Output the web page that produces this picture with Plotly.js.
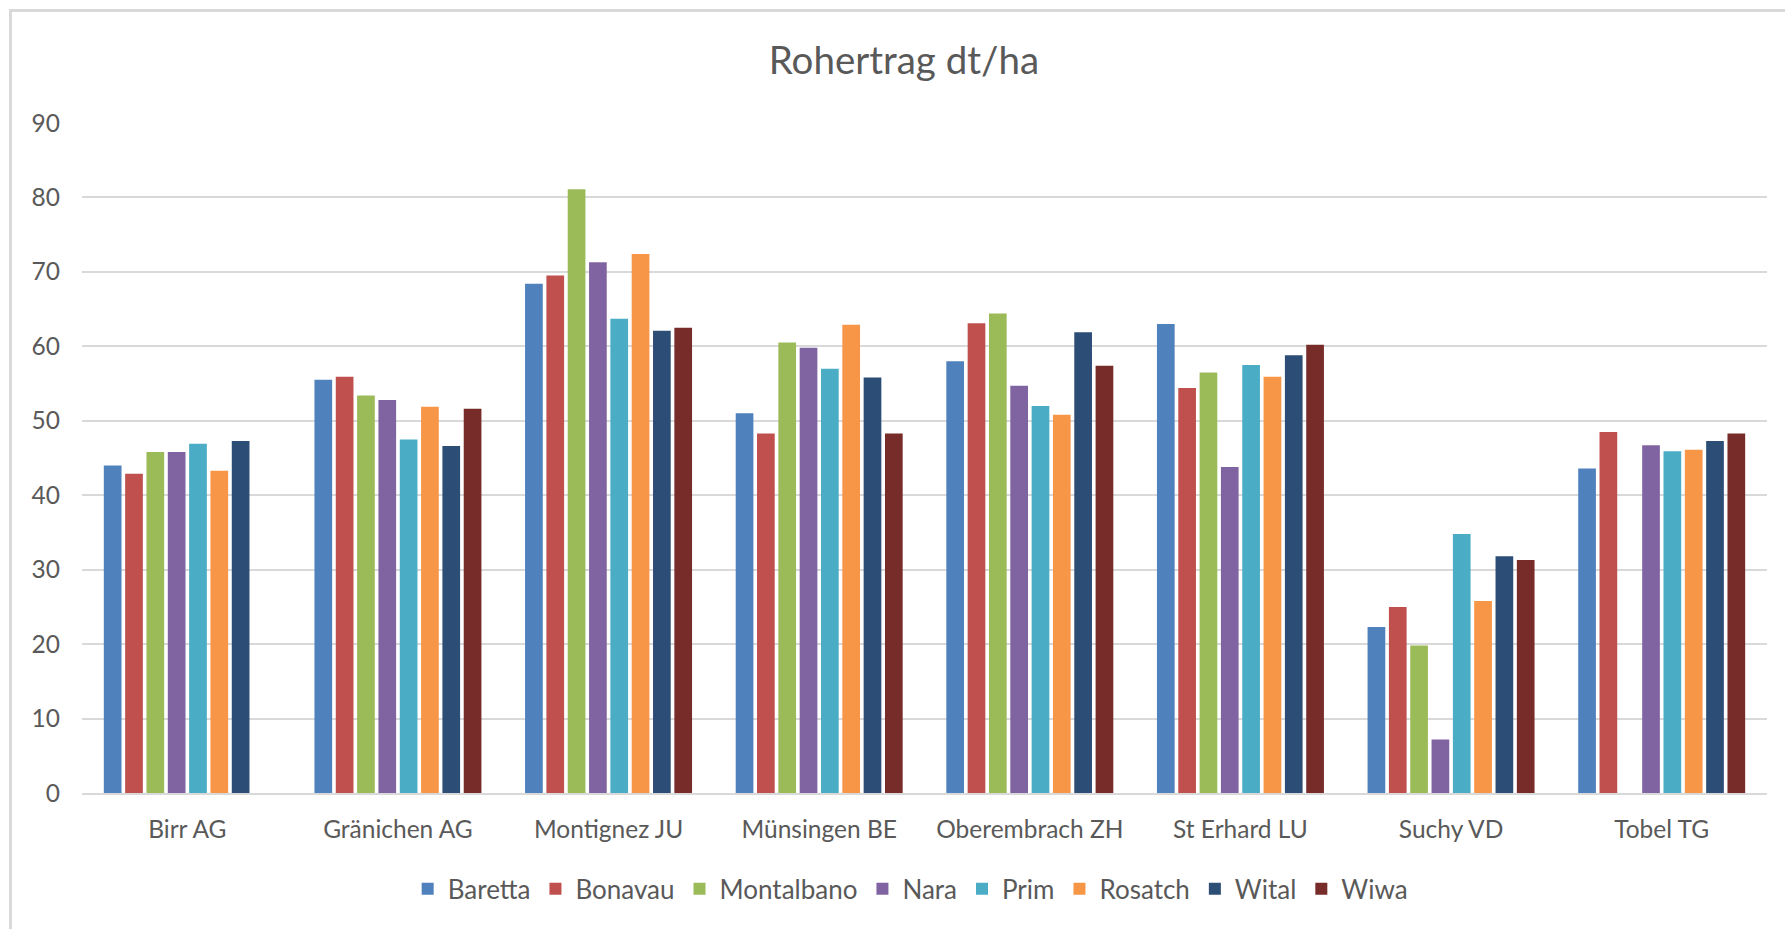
<!DOCTYPE html>
<html>
<head>
<meta charset="utf-8">
<script src="https://cdn.plot.ly/plotly-3.0.1.min.js"></script>
<style>
  html, body { margin: 0; padding: 0; background: #ffffff; overflow: hidden; }
  #frame { position: absolute; left: 9px; top: 9px; width: 1800px; height: 940px;
           border: 3px solid #d9d9d9; box-sizing: border-box; pointer-events: none; z-index: 5; }
  #chart { position: absolute; left: 0; top: 0; width: 1785px; height: 929px; }
</style>
</head>
<body>
<div id="chart"></div>
<div id="frame"></div>
<script>
// Categories (locations)
const locations = ["Birr AG", "Gränichen AG", "Montignez JU", "Münsingen BE",
                   "Oberembrach ZH", "St Erhard LU", "Suchy VD", "Tobel TG"];

// Series values (dt/ha), one array per variety
const baretta    = [44.0, 55.5, 68.4, 51.0, 58.0, 63.0, 22.3, 43.6];
const bonavau    = [42.9, 55.9, 69.5, 48.3, 63.1, 54.4, 25.0, 48.5];
const montalbano = [45.8, 53.4, 81.1, 60.5, 64.4, 56.5, 19.8, null];
const nara       = [45.8, 52.8, 71.3, 59.8, 54.7, 43.8, 7.2, 46.7];
const prim       = [46.9, 47.5, 63.7, 57.0, 52.0, 57.5, 34.8, 45.9];
const rosatch    = [43.3, 51.9, 72.4, 62.9, 50.8, 55.9, 25.8, 46.1];
const wital      = [47.3, 46.6, 62.1, 55.8, 61.9, 58.8, 31.8, 47.3];
const wiwa       = [null, 51.6, 62.5, 48.3, 57.4, 60.2, 31.3, 48.3];

const seriesNames = ["Baretta", "Bonavau", "Montalbano", "Nara", "Prim", "Rosatch", "Wital", "Wiwa"];
const seriesValues = [baretta, bonavau, montalbano, nara, prim, rosatch, wital, wiwa];
const seriesColors = ["#4F81BD", "#C0504D", "#9BBB59", "#8064A2", "#4BACC6", "#F79646", "#2C4D75", "#772C2A"];

const yTicks = [0, 10, 20, 30, 40, 50, 60, 70, 80, 90];
const chartTitle = "Rohertrag dt/ha";

const textColor = "#595959";
const fontFamily = "Lato, 'Open Sans', sans-serif";

const traces = seriesNames.map((name, i) => ({
  type: "bar",
  name: name,
  x: locations,
  y: seriesValues[i],
  marker: { color: seriesColors[i], line: { width: 0 } },
  hoverinfo: "x+y+name"
}));

const layout = {
  width: 1785,
  height: 929,
  paper_bgcolor: "#ffffff",
  plot_bgcolor: "#ffffff",
  margin: { l: 82, r: 18, t: 123, b: 136 },
  barmode: "group",
  bargap: 0.19,
  bargroupgap: 0.17,
  font: { family: fontFamily, color: textColor, size: 24 },
  title: {
    text: chartTitle,
    font: { family: fontFamily, size: 38.5, color: textColor },
    x: 0.5064, xref: "container", xanchor: "center",
    y: 1 - 61 / 929, yref: "container", yanchor: "middle"
  },
  xaxis: {
    type: "category",
    showgrid: false,
    showline: true,
    linecolor: "#d9d9d9",
    linewidth: 2,
    ticks: "",
    ticklabelstandoff: 14,
    tickfont: { family: fontFamily, size: 24.5, color: textColor },
    fixedrange: true
  },
  yaxis: {
    range: [0, 90],
    tickvals: yTicks,
    ticktext: yTicks.map(String),
    showgrid: true,
    gridcolor: "#d9d9d9",
    gridwidth: 2,
    zeroline: false,
    showline: false,
    ticks: "",
    ticklabelstandoff: 21,
    tickfont: { family: fontFamily, size: 24.5, color: textColor },
    fixedrange: true
  },
  showlegend: true,
  legend: {
    orientation: "h",
    x: 0.4915, xanchor: "center",
    y: -0.143, yanchor: "middle",
    font: { family: fontFamily, size: 26, color: textColor },
    itemwidth: 30,
    tracegroupgap: 0,
    traceorder: "normal"
  }
};

Plotly.newPlot("chart", traces, layout, { displayModeBar: false, staticPlot: true });
</script>
</body>
</html>
